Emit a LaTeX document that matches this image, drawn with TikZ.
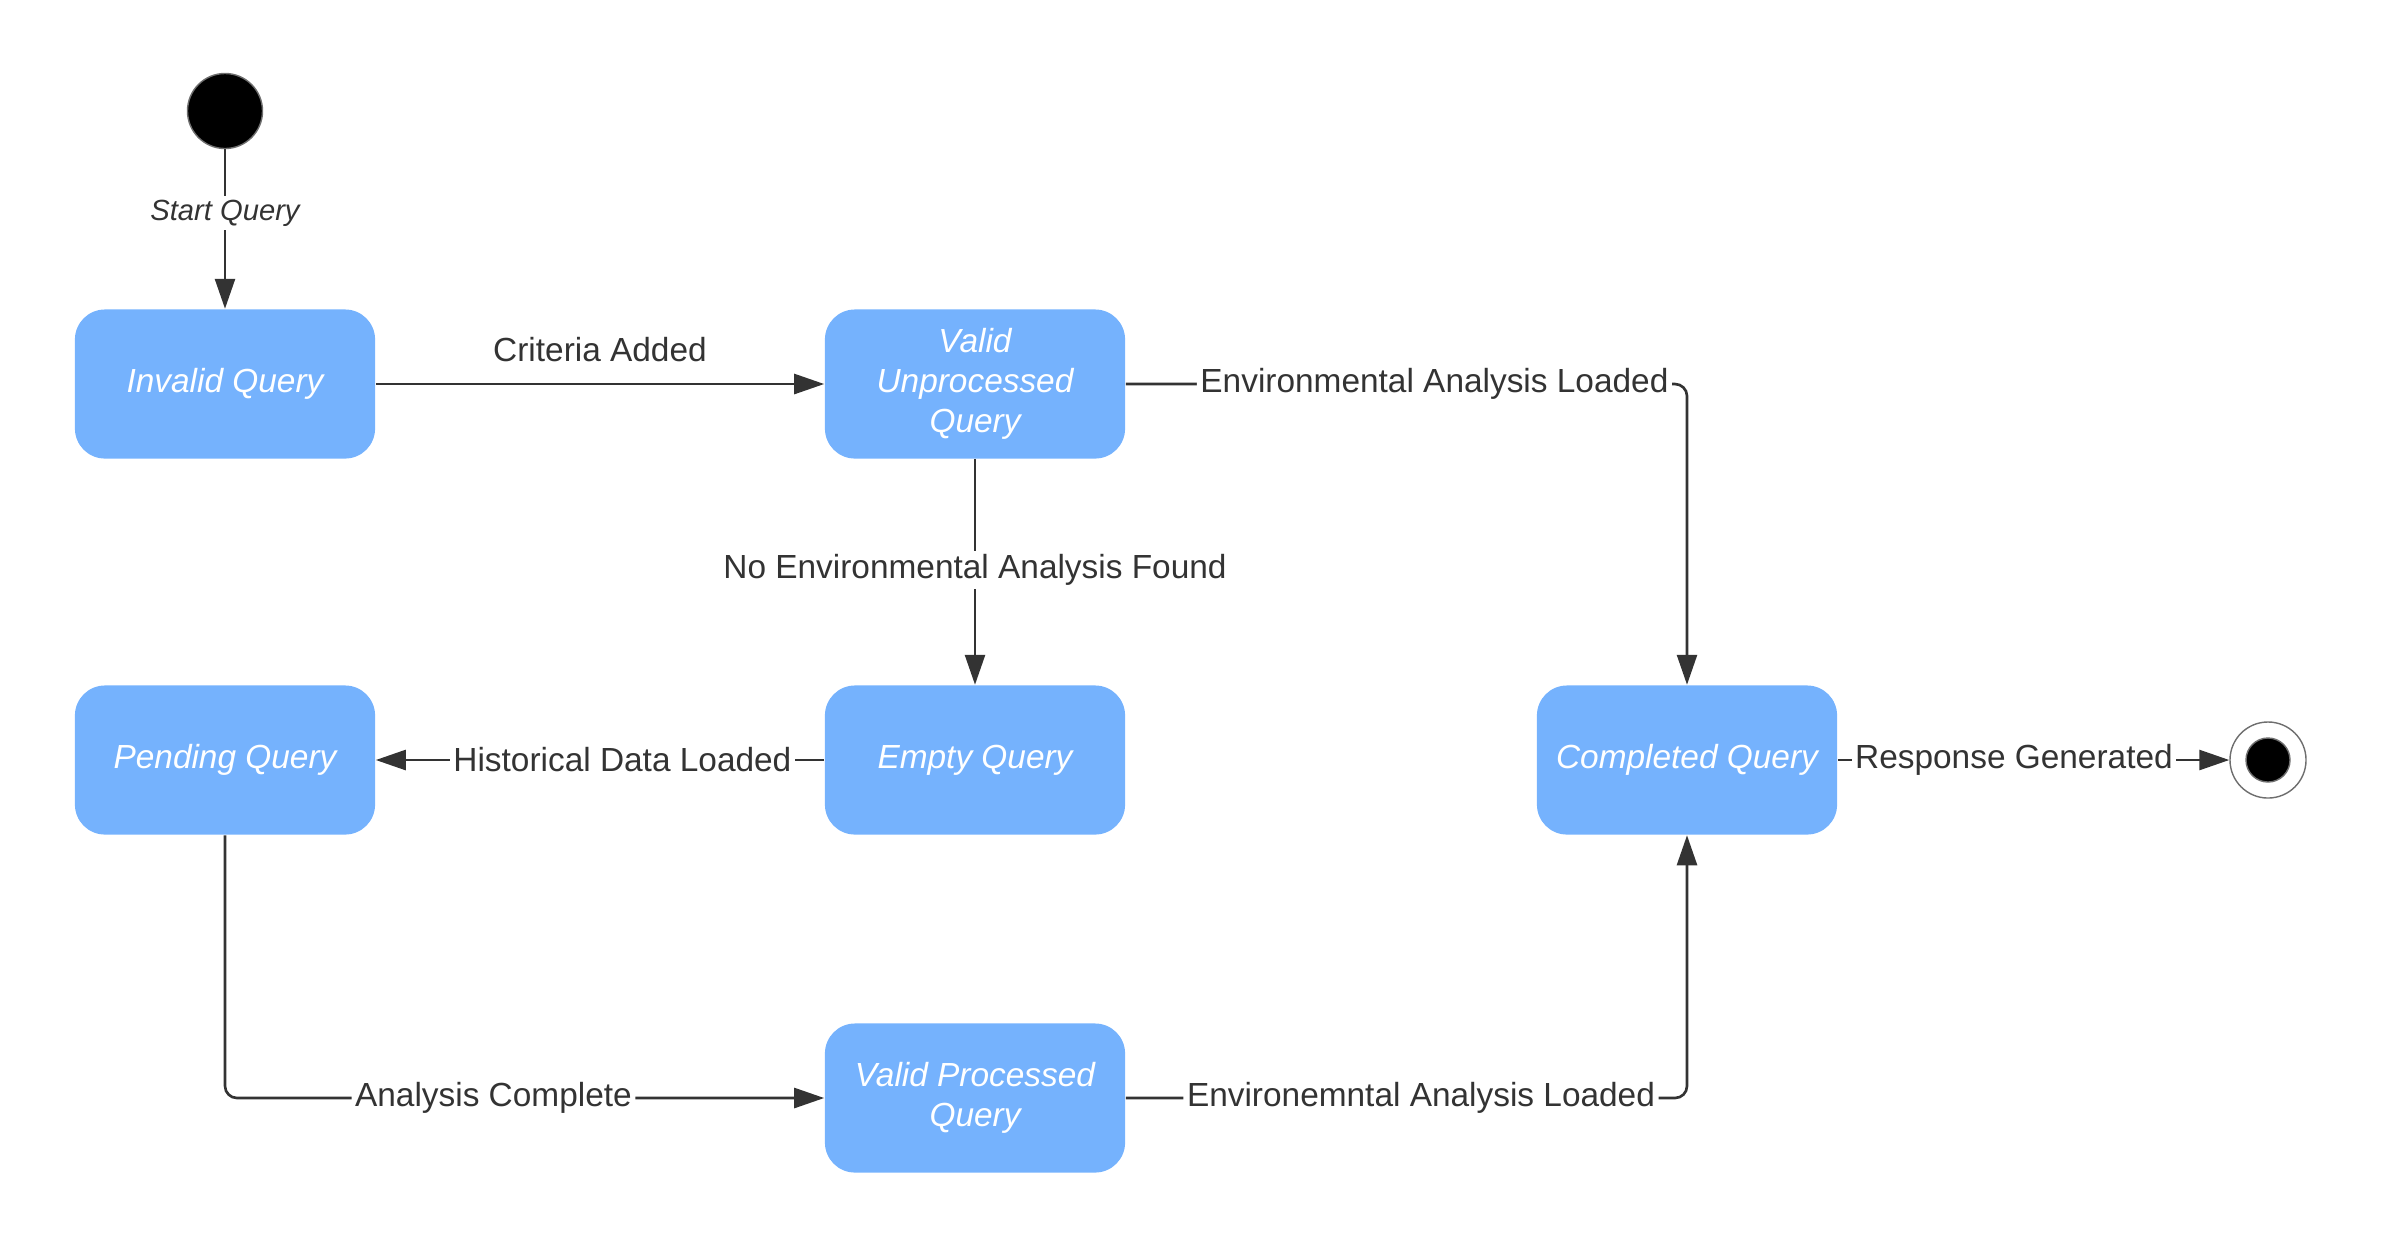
\documentclass[tikz,border=0pt]{standalone}
\usepackage{fontspec}
\setmainfont{Liberation Sans}
\usetikzlibrary{arrows.meta}
\definecolor{stateblue}{HTML}{75B2FD}
\definecolor{linegray}{HTML}{333333}
\definecolor{rimgray}{HTML}{6E6E6E}

\begin{document}
\begin{tikzpicture}[x=0.01cm,y=-0.01cm,
    font=\fontsize{9.5}{11.4}\selectfont,
    >={Triangle[length=0.3cm,width=0.2cm]}]
  \useasboundingbox (0,0) rectangle (2381,1247);

        \begin{scope}[every node/.style={rectangle,rounded corners=0.3cm,fill=stateblue,text=white,
            font=\fontsize{9.5}{11.4}\selectfont\itshape,align=center,
            minimum width=3cm,minimum height=1.49cm}]
          \node (2) at (225,384)  {Invalid Query};
          \node (3) at (975,384)  {Valid\\Unprocessed\\Query};
          \node (4) at (975,760)  {Empty Query};
          \node (5) at (225,760)  {Pending Query};
          \node (6) at (975,1098) {Valid Processed\\Query};
          \node (7) at (1687,760) {Completed Query};
        \end{scope}

        \begin{scope}[every node/.style={circle,draw=rimgray,line width=0.4pt,inner sep=0pt}]
          \node[fill=black,minimum size=0.75cm] (1) at (225,111)  {};
          \node[fill=white,minimum size=0.76cm] (8) at (2268,760) {};
          \node[fill=black,minimum size=0.44cm] (9) at (2268,760) {};
        \end{scope}

        \begin{scope}[every node/.style={fill=white,text=linegray,inner sep=1pt}]

          \begin{scope}[every edge/.style={draw=linegray,line width=0.75pt,->}]
            \path (1) edge node[pos=.40,font=\fontsize{8.3}{10}\selectfont\itshape] {Start Query} (2);
            \path (2) edge node[above=5pt,fill=none] {Criteria Added} (3);
            \path (3) edge node[pos=.49] {No Environmental Analysis Found} (4);
            \path (4) edge node[pos=.45] {Historical Data Loaded} (5);
            \path (7) edge node[pos=.45] {Response Generated} (8);
          \end{scope}

          \begin{scope}[draw=linegray,line width=0.75pt,rounded corners=0.12cm]
            \draw[->] (3) -| node[pos=.275] {Environmental Analysis Loaded} (7);
            \draw[->] (5) |- node[pos=.724] {Analysis Complete} (6);
            \draw[->] (6) -| node[pos=.263] {Environemntal Analysis Loaded} (7);
          \end{scope}
        \end{scope}

\end{tikzpicture}
\end{document}
